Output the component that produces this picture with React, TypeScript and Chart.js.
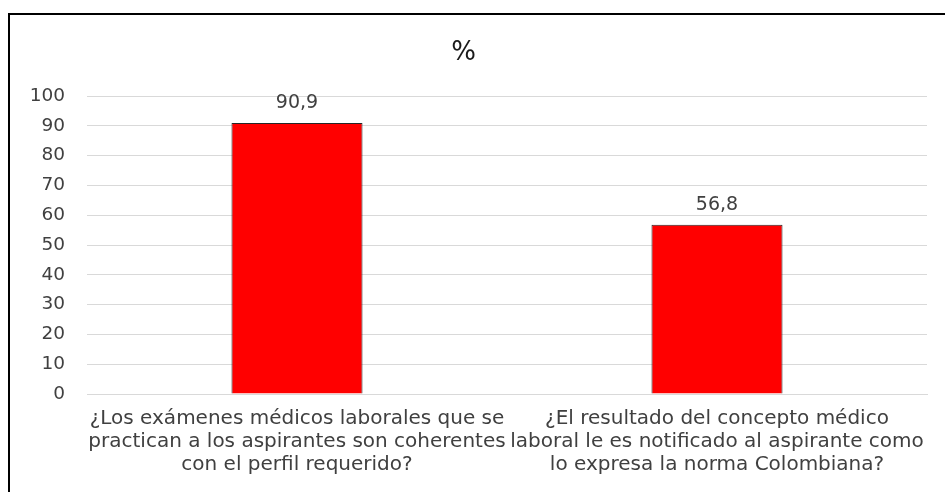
import React, { useEffect, useRef } from "react";
import { Chart, registerables } from "chart.js";

Chart.register(...registerables);

const categories: string[][] = [
  ["¿Los exámenes médicos laborales que se", "practican a los aspirantes son coherentes", "con el perfil requerido?"],
  ["¿El resultado del concepto médico", "laboral le es notificado al aspirante como", "lo expresa la norma Colombiana?"],
];
const percentValues: number[] = [90.9, 56.8];
const chartTitle = "%";

const FONT = "'DejaVu Sans', sans-serif";

const valueLabels = {
  id: "valueLabels",
  afterDatasetsDraw(chart: any) {
    const ctx = chart.ctx;
    const meta = chart.getDatasetMeta(0);
    ctx.save();
    ctx.font = `19px ${FONT}`;
    ctx.fillStyle = "#404040";
    ctx.textAlign = "center";
    ctx.textBaseline = "alphabetic";
    meta.data.forEach((bar: any, i: number) => {
      const v = chart.data.datasets[0].data[i] as number;
      ctx.fillText(v.toFixed(1).replace(".", ","), bar.x, bar.y - 15);
    });
    ctx.restore();
  },
};

export default function App() {
  const ref = useRef<HTMLCanvasElement>(null);
  useEffect(() => {
    if (!ref.current) return;
    const chart = new Chart(ref.current, {
      type: "bar",
      data: {
        labels: categories,
        datasets: [
          {
            data: percentValues,
            backgroundColor: "#ff0000",
            borderColor: "#262626",
            borderWidth: 1,
            barPercentage: 1,
            categoryPercentage: 0.312,
          },
        ],
      },
      options: {
        responsive: false,
        animation: false,
        layout: { padding: { left: 0, right: 18, top: 0, bottom: 0 } },
        plugins: {
          legend: { display: false },
          tooltip: { enabled: false },
          title: {
            display: true,
            text: chartTitle,
            color: "#1a1a1a",
            font: { family: FONT, size: 26, weight: "normal", lineHeight: 1.2 },
            padding: { top: 38, bottom: 26.8 },
          },
        },
        scales: {
          x: {
            grid: { display: false, drawTicks: false },
            border: { display: true, color: "#d9d9d9", width: 1 },
            ticks: {
              color: "#404040",
              font: { family: FONT, size: 20, lineHeight: 1.15 },
              padding: 13,
              maxRotation: 0,
              minRotation: 0,
              autoSkip: false,
            },
            afterFit: (s: any) => {
              s.height = 98;
            },
          },
          y: {
            min: 0,
            max: 100,
            grid: { color: "#d9d9d9", drawTicks: false },
            border: { display: false },
            ticks: {
              stepSize: 10,
              color: "#404040",
              font: { family: FONT, size: 18.5 },
              padding: 22,
            },
            afterFit: (s: any) => {
              s.width = 87;
            },
          },
        },
      },
      plugins: [valueLabels],
    });
    return () => chart.destroy();
  }, []);

  return (
    <div style={{ position: "fixed", left: 0, top: 0, width: 945, height: 492, overflow: "hidden", background: "#fff" }}>
      <div
        style={{
          position: "absolute",
          left: 8,
          top: 13,
          width: 960,
          height: 520,
          border: "2px solid #000",
          boxSizing: "border-box",
        }}
      />
      <canvas ref={ref} width={945} height={492} style={{ position: "absolute", left: 0, top: 0 }} />
    </div>
  );
}
